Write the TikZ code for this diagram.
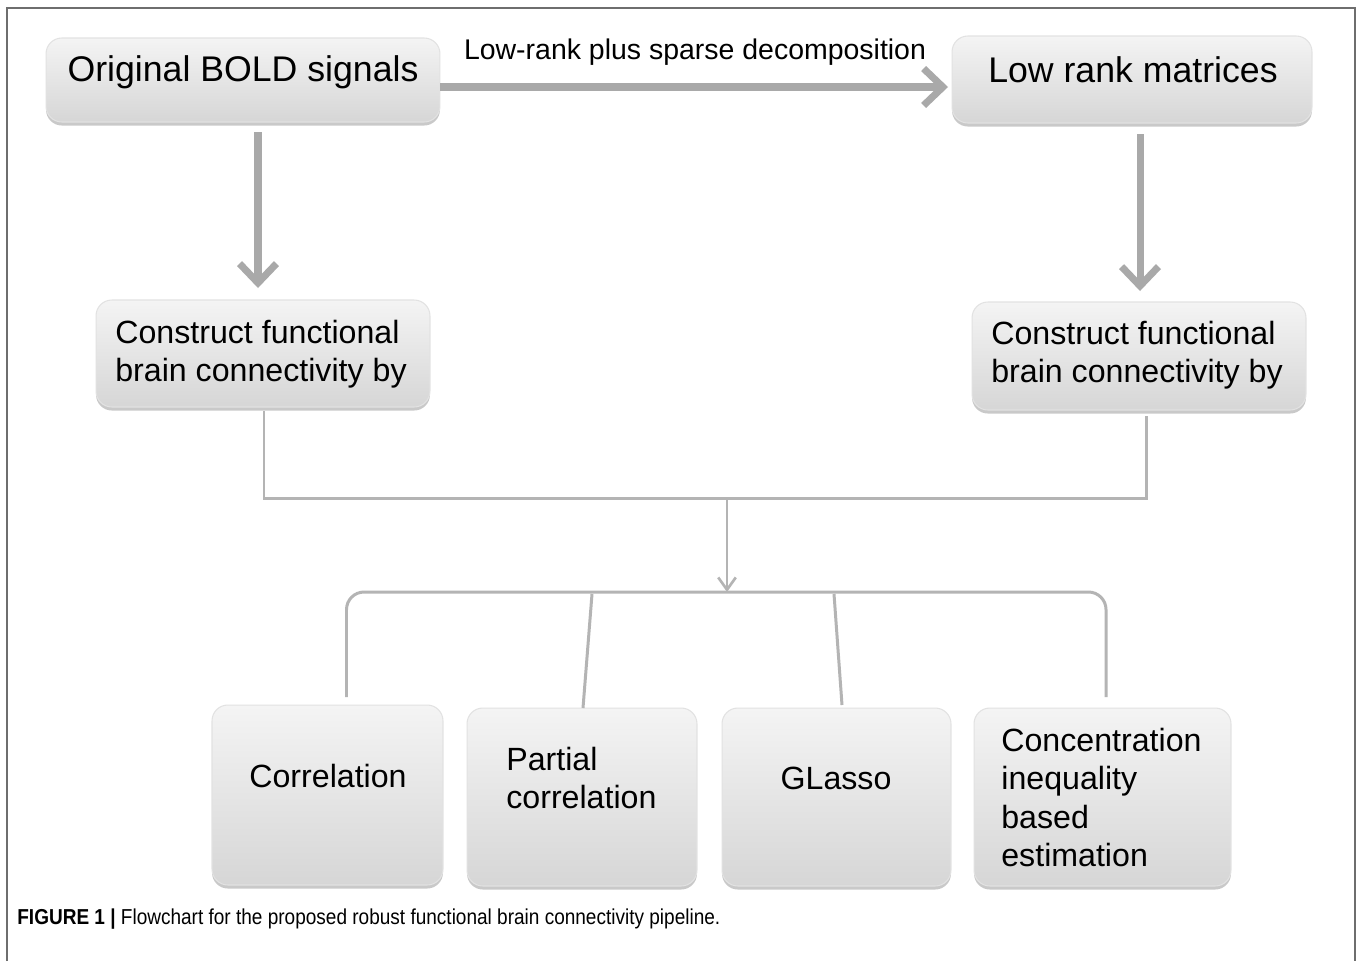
\documentclass[tikz,border=0pt]{standalone}
\usepackage{fontspec}
\setmainfont{Liberation Sans}
\newfontfamily\capfont[FakeStretch=0.88]{Liberation Sans}
\usetikzlibrary{arrows.meta,shadows}
\definecolor{arrowgray}{HTML}{A9A9A9}
\definecolor{linegray}{HTML}{B4B4B4}
\definecolor{boxtop}{HTML}{F4F4F4}
\definecolor{boxbot}{HTML}{D6D6D6}
\definecolor{boxedge}{HTML}{E2E2E2}
\definecolor{framegray}{HTML}{6E6E6E}
\tikzset{
  box/.style={rounded corners=9pt, draw=boxedge, line width=0.6pt,
    top color=boxtop, bottom color=boxbot,
    drop shadow={shadow xshift=0pt, shadow yshift=-2pt, opacity=0.35, fill=black!60},
    inner sep=0pt},
  big/.style={font=\fontsize{20.3}{24}\selectfont},
  mid/.style={font=\fontsize{18.3}{21.5}\selectfont, align=left},
  lbl/.style={font=\fontsize{16.2}{19}\selectfont},
  bigarrow/.style={draw=arrowgray, line width=4pt,
    -{Straight Barb[length=11pt,width=21pt]}},
  thin/.style={draw=linegray, line width=1.7pt},
  thinarrow/.style={draw=linegray, line width=1.5pt,
    -{Straight Barb[length=7pt,width=10pt]}},
  frameline/.style={draw=framegray, line width=1.2pt}
}
\begin{document}
\begin{tikzpicture}[x=0.02cm,y=-0.02cm]
\useasboundingbox (0,0) rectangle (1358,961);
\fill[white] (0,0) rectangle (1358,961);
% frame
\draw[frameline] (7,961) -- (7,8) -- (1355,8) -- (1355,961);

% boxes
\node[box, minimum width=7.88cm, minimum height=1.68cm] (b1) at (243,80) {};
\node[box, minimum width=7.2cm, minimum height=1.74cm] (b2) at (1132,79.5) {};
\node[box, minimum width=6.68cm, minimum height=2.14cm] (b3) at (263,353.5) {};
\node[box, minimum width=6.68cm, minimum height=2.16cm] (b4) at (1139,356) {};
\node[box, minimum width=4.62cm, minimum height=3.6cm] (c1) at (327.5,795) {};
\node[box, minimum width=4.6cm, minimum height=3.56cm] (c2) at (582,797) {};
\node[box, minimum width=4.58cm, minimum height=3.56cm] (c3) at (836.5,797) {};
\node[box, minimum width=5.14cm, minimum height=3.56cm] (c4) at (1102.5,797) {};

% texts
\node[big] (t1) at (243,72) {Original BOLD signals};
\node[big] (t2) at (1133,70) {Low rank matrices};
\node[mid, anchor=west, inner sep=0pt] (t3) at (115,354) {Construct functional\\brain connectivity by};
\node[mid, anchor=west, inner sep=0pt] (t4) at (991,355) {Construct functional\\brain connectivity by};
\node[mid, inner sep=0pt] (u1) at (328,776) {Correlation};
\node[mid, anchor=west, inner sep=0pt] (u2) at (506,778) {Partial\\correlation};
\node[mid, inner sep=0pt] (u3) at (836,778) {GLasso};
\node[mid, anchor=west, inner sep=0pt, font=\fontsize{18.3}{21.8}\selectfont] (u4) at (1001,797.5) {Concentration\\inequality\\based\\estimation};

% top arrow
\coordinate (a1s) at (b1.east |- 0,87);
\coordinate (a1e) at (948,87);
\draw[bigarrow] (a1s) -- (a1e);
\node[lbl] (dec) at (695,52) {Low-rank plus sparse decomposition};

% vertical arrows
\draw[bigarrow] (258,132) -- (258,288);
\draw[bigarrow] (1140,134) -- (1140,291);

% merge connector
\coordinate (m1) at (264,498);
\coordinate (m2) at (1146,498);
\coordinate (mc) at (727,498);
\coordinate (bt) at (727,592);
\draw[thin] (264,411) -- (m1) -- (m2) -- (1146,416);
\draw[thinarrow] (mc) -- (bt);

% bracket
\draw[thin, rounded corners=10pt] (346.5,697) -- (346.5,592) -- (1106,592) -- (1106,697);
\draw[thin] (592,594) -- (583,708);
\draw[thin] (834,594) -- (842,705);

% caption
\node[anchor=west, inner sep=0pt, font=\capfont\fontsize{12.3}{14}\selectfont] (cap) at (17,919)
  {\textbf{FIGURE 1 |} Flowchart for the proposed robust functional brain connectivity pipeline.};
\end{tikzpicture}
\end{document}
